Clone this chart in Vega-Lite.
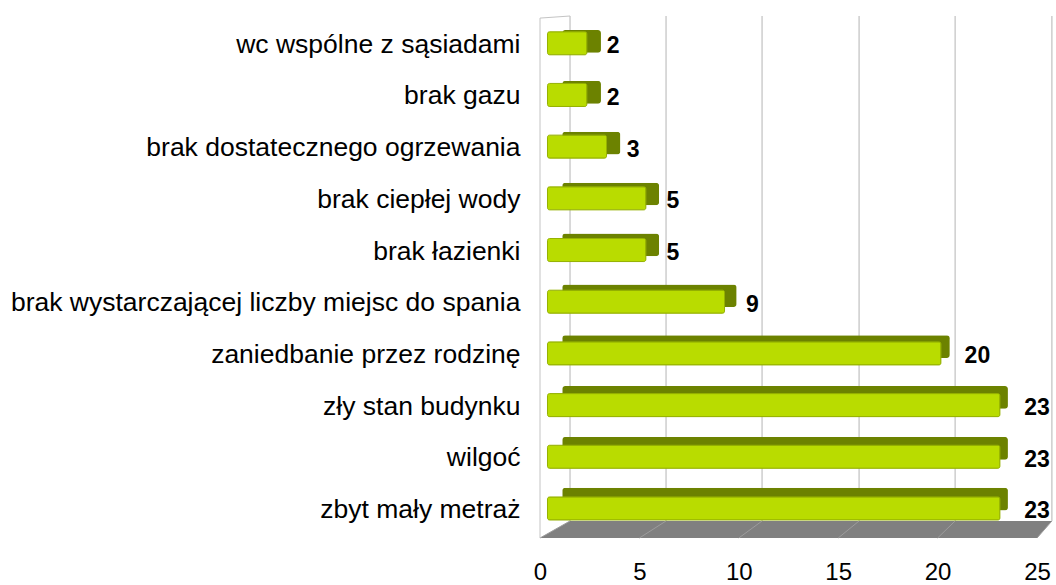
{
  "$schema": "https://vega.github.io/schema/vega-lite/v6.json",
  "width": 497,
  "height": 522,
  "autosize": {"type": "none"},
  "padding": {"left": 540, "top": 16, "right": 19, "bottom": 47},
  "background": "white",
  "config": {"view": {"stroke": null}, "font": "Liberation Sans"},
  "datasets": {
    "bars": [
      {"cat": "wc wspólne z sąsiadami", "value": 2},
      {"cat": "brak gazu", "value": 2},
      {"cat": "brak dostatecznego ogrzewania", "value": 3},
      {"cat": "brak ciepłej wody", "value": 5},
      {"cat": "brak łazienki", "value": 5},
      {"cat": "brak wystarczającej liczby miejsc do spania", "value": 9},
      {"cat": "zaniedbanie przez rodzinę", "value": 20},
      {"cat": "zły stan budynku", "value": 23},
      {"cat": "wilgoć", "value": 23},
      {"cat": "zbyt mały metraż", "value": 23}
    ],
    "floor": [
      {"lvl": 0, "left": 0, "right": 25},
      {"lvl": 0.0326, "left": 1.51, "right": 25.75}
    ],
    "grid": [
      {"tick": 0, "front": 0, "back": 1.51, "floorFront": 0, "floorBack": 0.0326, "wallTop": 1},
      {"tick": 5, "front": 5, "back": 6.34, "floorFront": 0, "floorBack": 0.0326, "wallTop": 1},
      {"tick": 10, "front": 10, "back": 11.17, "floorFront": 0, "floorBack": 0.0326, "wallTop": 1},
      {"tick": 15, "front": 15, "back": 16.05, "floorFront": 0, "floorBack": 0.0326, "wallTop": 1},
      {"tick": 20, "front": 20, "back": 20.88, "floorFront": 0, "floorBack": 0.0326, "wallTop": 1},
      {"tick": 25, "front": 25, "back": 25.75, "floorFront": 0, "floorBack": 0.0326, "wallTop": 1}
    ],
    "wall": [
      {"x": 0, "lvl": 0},
      {"x": 0, "lvl": 0.996},
      {"x": 1.51, "lvl": 1}
    ]
  },
  "layer": [
    {
      "data": {"name": "grid"},
      "mark": {"type": "rule", "color": "#b4b4b4", "strokeWidth": 1},
      "encoding": {
        "x": {"field": "back", "type": "quantitative", "scale": {"domain": [0, 25], "nice": false, "zero": false}, "axis": null},
        "y": {"field": "floorBack", "type": "quantitative", "scale": {"domain": [0, 1], "nice": false}, "axis": null},
        "y2": {"field": "wallTop"}
      }
    },
    {
      "data": {"name": "floor"},
      "mark": {"type": "area", "orient": "horizontal", "color": "#808080", "opacity": 1},
      "encoding": {
        "y": {"field": "lvl", "type": "quantitative", "scale": {"domain": [0, 1], "nice": false}, "axis": null},
        "x": {"field": "left", "type": "quantitative", "scale": {"domain": [0, 25], "nice": false, "zero": false},
          "axis": {"values": [0, 5, 10, 15, 20, 25], "domain": false, "ticks": false, "tickSize": 0, "grid": false, "title": null,
            "labelFontSize": 24, "labelPadding": 22, "labelColor": "#000000", "labelFlush": false, "labelOverlap": false, "labelFont": "Liberation Sans"}},
        "x2": {"field": "right"}
      }
    },
    {
      "data": {"name": "grid"},
      "mark": {"type": "rule", "color": "#9c9c9c", "strokeWidth": 1},
      "encoding": {
        "x": {"field": "front", "type": "quantitative", "scale": {"domain": [0, 25], "nice": false, "zero": false}, "axis": null},
        "x2": {"field": "back"},
        "y": {"field": "floorFront", "type": "quantitative", "scale": {"domain": [0, 1], "nice": false}, "axis": null},
        "y2": {"field": "floorBack"}
      }
    },
    {
      "data": {"name": "wall"},
      "mark": {"type": "line", "color": "#c4c4c4", "strokeWidth": 1},
      "encoding": {
        "x": {"field": "x", "type": "quantitative", "scale": {"domain": [0, 25], "nice": false, "zero": false}, "axis": null},
        "y": {"field": "lvl", "type": "quantitative", "scale": {"domain": [0, 1], "nice": false}, "axis": null},
        "order": {"field": "lvl", "type": "quantitative"}
      }
    },
    {
      "data": {"name": "bars"},
      "mark": {"type": "bar", "color": "#6c8200", "cornerRadius": 3, "height": {"band": 0.446}},
      "encoding": {
        "y": {"field": "cat", "type": "nominal", "sort": null, "scale": {"paddingInner": 0, "paddingOuter": 0.1316, "align": 0}, "axis": null},
        "x": {"field": "value", "type": "quantitative", "scale": {"domain": [-1.146, 24.5], "nice": false, "zero": false}, "axis": null}
      }
    },
    {
      "data": {"name": "bars"},
      "mark": {"type": "bar", "color": "#b9dc00", "stroke": "#96b200", "strokeWidth": 1, "cornerRadius": 2, "height": {"band": 0.446}},
      "encoding": {
        "y": {"field": "cat", "type": "nominal", "sort": null, "scale": {"paddingInner": 0, "paddingOuter": 0.0493, "align": 0.28},
          "axis": {"title": null, "domain": false, "ticks": false, "tickSize": 0, "labelPadding": 20, "labelFontSize": 26.5, "labelColor": "#000000", "labelLimit": 0, "labelOffset": 1.5, "labelFont": "Liberation Sans"}},
        "x": {"field": "value", "type": "quantitative", "scale": {"domain": [-0.381, 24.886], "nice": false, "zero": false}, "axis": null}
      }
    },
    {
      "data": {"name": "bars"},
      "mark": {"type": "text", "align": "left", "baseline": "middle", "dx": 27, "dy": 3, "fontSize": 23, "fontWeight": "bold", "color": "#000000", "font": "Liberation Sans"},
      "encoding": {
        "y": {"field": "cat", "type": "nominal", "sort": null, "bandPosition": 0.5, "scale": {"type": "band", "paddingInner": 0, "paddingOuter": 0.0493, "align": 0.28}, "axis": null},
        "x": {"field": "value", "type": "quantitative", "scale": {"domain": [0, 25], "nice": false, "zero": false}, "axis": null},
        "text": {"field": "value", "type": "quantitative"}
      }
    }
  ],
  "resolve": {"scale": {"x": "independent", "y": "independent"}}
}
